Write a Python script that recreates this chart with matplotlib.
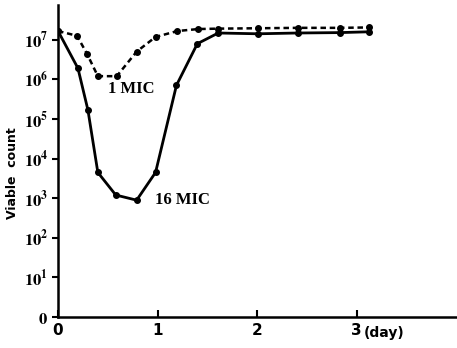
import matplotlib
matplotlib.use("Agg")
import matplotlib.pyplot as plt
import numpy as np

plt.rcParams['mathtext.fontset'] = 'stix'

# 16 MIC (solid)
days_16 = [0, 0.2, 0.3, 0.4, 0.58, 0.79, 0.98, 1.19, 1.4, 1.61, 2.01, 2.41, 2.83, 3.12]
log_16 = [7.22, 6.28, 5.23, 3.65, 3.08, 2.95, 3.65, 5.85, 6.9, 7.17, 7.15, 7.17, 7.18, 7.2]

# 1 MIC (dashed)
days_1 = [0, 0.19, 0.29, 0.4, 0.59, 0.79, 0.98, 1.2, 1.41, 1.61, 2.01, 2.41, 2.83, 3.12]
log_1 = [7.22, 7.1, 6.65, 6.08, 6.08, 6.7, 7.07, 7.22, 7.27, 7.28, 7.29, 7.3, 7.3, 7.31]

yticks = [1, 10, 100, 1e3, 1e4, 1e5, 1e6, 1e7]
ytick_labels = [r'$\mathbf{0}$'] + [r'$\mathbf{10^{%d}}$' % i for i in range(1, 8)]
xticks = [0, 1, 2, 3]
xtick_labels = ['0', '1', '2', '3']

fig = plt.figure(figsize=(4.57, 3.48), dpi=100)
ax = fig.add_axes([0.127, 0.089, 0.871, 0.897])

ax.plot(days_16, 10 ** np.array(log_16), color='black', lw=2, marker='o', ms=4)
ax.plot(days_1, 10 ** np.array(log_1), color='black', lw=1.8, ls=(0, (2.2, 1.5)), marker='o', ms=4)

ax.set_yscale('log')
ax.set_ylim(1, 10 ** 7.88)
ax.set_xlim(0, 4.0)
ax.minorticks_off()
ax.set_yticks(yticks)
ax.set_yticklabels(ytick_labels, fontsize=12)
ax.set_xticks(xticks)
ax.set_xticklabels(xtick_labels, fontsize=11, fontweight='bold')

ax.spines['top'].set_visible(False)
ax.spines['right'].set_visible(False)
ax.spines['left'].set_linewidth(1.8)
ax.spines['bottom'].set_linewidth(1.8)
ax.tick_params(axis='y', direction='out', length=4, width=1.5, pad=3)
ax.tick_params(axis='x', direction='in', length=5, width=1.5, pad=4)

fig.text(13 / 457, 1 - 173 / 348, 'Viable  count', rotation=90, fontsize=9,
         fontweight='bold', ha='center', va='center')

ax.text(3.07, -0.052, '(day)', transform=ax.get_xaxis_transform(), fontsize=10,
        fontweight='bold', va='center', ha='left')
ax.text(0.5, 10 ** 5.65, '1 MIC', fontsize=12, family='Liberation Serif', fontweight='bold')
ax.text(0.97, 10 ** 2.85, '16 MIC', fontsize=12, family='Liberation Serif', fontweight='bold')

fig.savefig('out.png', dpi=100)
